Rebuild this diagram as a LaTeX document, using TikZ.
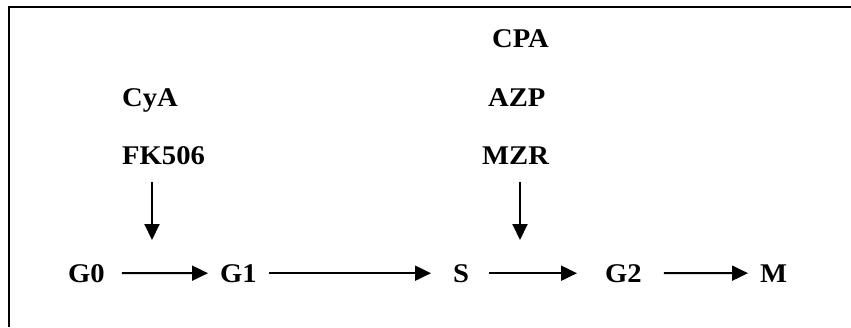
\documentclass[tikz,border=0pt]{standalone}
\usepackage{fontspec}
\setmainfont{Liberation Serif}
\newfontfamily\widebold[FakeStretch=1.06]{Liberation Serif}
\usetikzlibrary{arrows.meta}
\begin{document}
\begin{tikzpicture}[x=1pt,y=-1pt,
  lbl/.style={anchor=base west,inner sep=0pt,font=\widebold\fontsize{27}{30}\selectfont\bfseries},
  phase/.style={anchor=base west,inner sep=0pt,font=\widebold\fontsize{27}{30}\selectfont\bfseries},
  arr/.style={line width=2pt,-{Triangle[length=16pt,width=15pt]}},
  frame/.style={line width=2pt}]
\useasboundingbox (0,0) rectangle (851,327);
% open frame: top and left edges
\draw[frame] (8.5,327) -- (8.5,7) -- (851,7);

% drug labels
\node[lbl] (cya) at (122,106) {CyA};
\node[lbl] (fk) at (122,164) {FK506};
\node[lbl] (cpa) at (492,47) {CPA};
\node[lbl] (azp) at (488,106) {AZP};
\node[lbl] (mzr) at (482,164) {MZR};

% cell cycle phases
\node[phase] (g0) at (68,282) {G0};
\node[phase] (g1) at (220,282) {G1};
\node[phase] (s) at (453,282) {S};
\node[phase] (g2) at (605,282) {G2};
\node[phase] (m) at (760,282) {M};

% phase transitions
\draw[arr,shorten <=17pt,shorten >=12pt] (g0.east) -- (g1.west);
\draw[arr,shorten <=12pt,shorten >=22pt] (g1.east) -- (s.west);
\draw[arr,shorten <=20pt,shorten >=28pt] (s.east) -- (g2.west);
\draw[arr,shorten <=22pt,shorten >=12pt] (g2.east) -- (m.west);

% points of action
\coordinate (fktop) at (152,182);
\coordinate (fktip) at (152,240);
\coordinate (mzrtop) at (520,182);
\coordinate (mzrtip) at (520,240);
\draw[arr] (fktop) -- (fktip);
\draw[arr] (mzrtop) -- (mzrtip);
\end{tikzpicture}
\end{document}
